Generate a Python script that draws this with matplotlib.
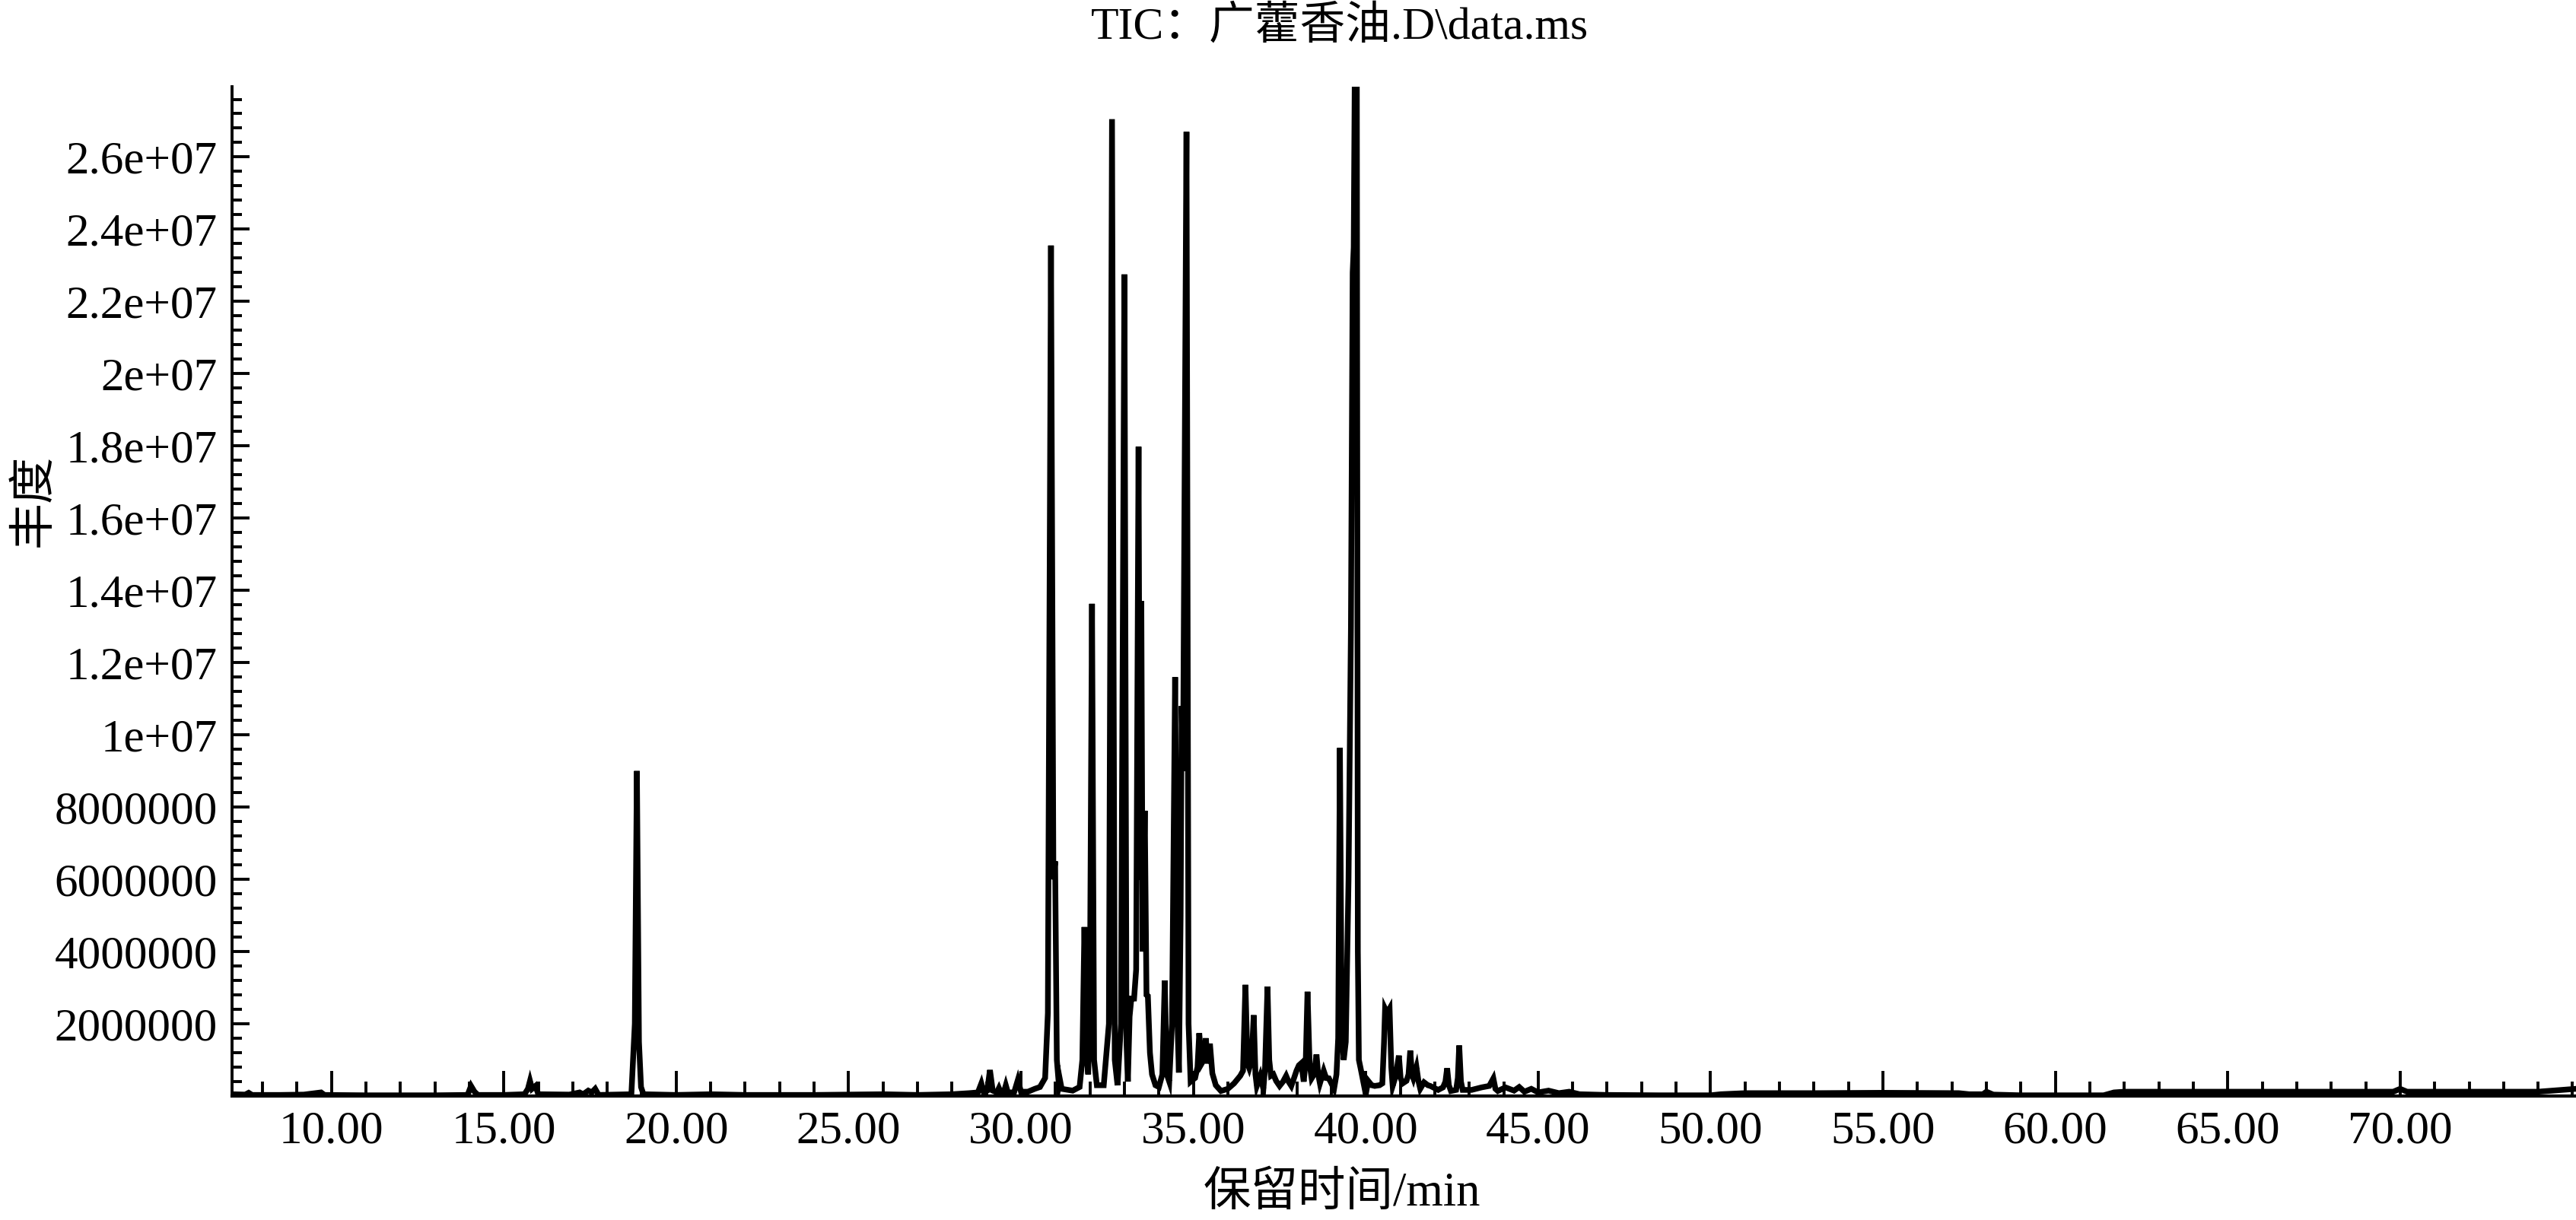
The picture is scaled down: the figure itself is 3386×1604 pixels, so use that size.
import numpy as np
import matplotlib
matplotlib.use("Agg")
import matplotlib.pyplot as plt
from matplotlib.ticker import FixedLocator, MultipleLocator, FuncFormatter

plt.rcParams['font.family'] = ['Liberation Serif', 'Noto Sans CJK SC', 'DejaVu Sans']

title = "TIC：广藿香油.D\\data.ms"
x_label = "保留时间/min"
y_label = "丰度"
x_ticks = [10, 15, 20, 25, 30, 35, 40, 45, 50, 55, 60, 65, 70]

# retention time (min) and abundance (x 1e6)
rt_early = [7.12, 7.5, 7.6, 7.7, 8.5, 9.2, 9.7, 9.8, 11.0, 13.0, 13.95, 14.05, 14.15, 14.25,
            15.0, 15.6, 15.7, 15.76, 15.82, 15.92, 16.0, 16.9, 17.2, 17.3, 17.45, 17.55, 17.65,
            17.75, 18.7, 18.8, 18.86, 18.92, 18.98, 19.05, 20.0, 21.0, 22.0, 24.0, 26.0, 27.0,
            28.0, 28.5, 28.75, 28.85, 28.92, 29.02, 29.1, 29.18, 29.3, 29.36, 29.42, 29.5,
            29.56, 29.62, 29.8, 29.91, 30.0, 30.2, 30.4, 30.55, 30.7]
ab_early = [0.05, 0.04, 0.09, 0.03, 0.03, 0.04, 0.10, 0.03, 0.02, 0.02, 0.03, 0.28, 0.12, 0.03,
            0.03, 0.05, 0.20, 0.42, 0.20, 0.28, 0.05, 0.04, 0.10, 0.05, 0.15, 0.10, 0.20,
            0.03, 0.05, 2.0, 9.0, 1.5, 0.25, 0.05, 0.03, 0.05, 0.03, 0.03, 0.05, 0.03,
            0.05, 0.08, 0.10, 0.35, 0.10, 0.15, 0.72, 0.15, 0.10, 0.22, 0.08, 0.10,
            0.30, 0.10, 0.10, 0.45, 0.12, 0.12, 0.20, 0.25, 0.50]

rt_main = [30.78, 30.87, 30.94, 30.99, 31.04, 31.1, 31.13, 31.18, 31.5, 31.7, 31.78, 31.84,
           31.9, 31.95, 32.0, 32.06, 32.12, 32.2, 32.4, 32.55, 32.64, 32.72, 32.8, 32.9,
           33.0, 33.06, 33.1, 33.15, 33.2, 33.28, 33.34, 33.41, 33.45, 33.49, 33.53, 33.59,
           33.64, 33.68, 33.74, 33.8, 33.9, 34.0, 34.1, 34.17, 34.23, 34.3, 34.38, 34.47,
           34.54, 34.58, 34.63, 34.66, 34.7, 34.8, 34.86, 34.92, 34.98, 35.05, 35.12, 35.17,
           35.24, 35.3, 35.36, 35.42, 35.48, 35.55, 35.65, 35.8, 36.0, 36.18, 36.36, 36.44,
           36.51, 36.57, 36.62, 36.69, 36.75, 36.8, 36.84, 36.94, 37.03, 37.08, 37.15, 37.2,
           37.25, 37.32, 37.4, 37.5, 37.6, 37.69, 37.76, 37.84, 37.92, 37.99, 38.06, 38.13,
           38.2, 38.26, 38.31, 38.37, 38.43, 38.5, 38.57, 38.62, 38.67, 38.78, 38.85, 38.93,
           39.08, 39.15, 39.2, 39.25, 39.3, 39.36, 39.42, 39.5, 39.57, 39.62, 39.65, 39.68,
           39.74, 39.77, 39.8, 39.85]
ab_main = [2.3, 23.55, 6.0, 6.5, 1.0, 0.3, 0.45, 0.2, 0.15, 0.25, 1.0, 4.68,
           1.2, 0.6, 3.0, 13.63, 1.0, 0.3, 0.3, 2.0, 27.05, 1.0, 0.3, 2.0,
           22.75, 1.5, 0.4, 2.2, 2.7, 2.7, 3.5, 17.98, 6.0, 13.7, 4.0, 7.9,
           2.8, 2.77, 1.2, 0.6, 0.3, 0.25, 0.6, 3.2, 0.6, 0.4, 2.0, 11.6,
           2.0, 0.65, 5.0, 10.8, 9.0, 26.7, 2.0, 0.4, 0.45, 0.5, 0.8, 1.74,
           0.9, 1.0, 1.6, 0.9, 1.45, 0.63, 0.3, 0.14, 0.2, 0.35, 0.56, 0.7,
           3.08, 0.9, 0.77, 1.0, 2.24, 0.6, 0.28, 0.56, 0.2, 0.8, 3.03, 1.0,
           0.56, 0.6, 0.42, 0.28, 0.4, 0.56, 0.4, 0.28, 0.5, 0.7, 0.85, 0.91,
           0.4, 1.0, 2.89, 0.9, 0.49, 0.6, 1.15, 0.6, 0.35, 0.7, 0.5, 0.49,
           0.2, 0.6, 1.6, 9.64, 2.0, 1.0, 1.5, 6.0, 13.0, 22.8, 23.5, 28.2,
           28.2, 4.0, 1.0, 0.77]

rt_late = [40.0, 40.07, 40.17, 40.26, 40.4, 40.48, 40.53, 40.56, 40.62, 40.69, 40.74, 40.78,
           40.87, 40.96, 41.01, 41.07, 41.18, 41.24, 41.29, 41.34, 41.38, 41.47, 41.53, 41.58,
           41.69, 41.8, 41.87, 42.1, 42.24, 42.31, 42.36, 42.41, 42.47, 42.62, 42.67, 42.71,
           42.76, 42.81, 43.07, 43.36, 43.58, 43.7, 43.76, 43.83, 44.05, 44.3, 44.45, 44.6,
           44.8, 45.0, 45.3, 45.6, 45.9, 46.2, 47.0, 48.5, 50.0, 50.3, 51.0, 53.0, 55.0,
           57.2, 57.5, 57.9, 58.0, 58.2, 59.0, 61.4, 61.7, 62.0, 64.0, 66.0, 68.0, 69.8,
           70.0, 70.2, 72.0, 74.0, 75.1]
ab_late = [0.05, 0.42, 0.3, 0.28, 0.3, 0.35, 1.5, 2.42, 2.3, 2.42, 0.8, 0.28,
           0.56, 1.12, 0.5, 0.35, 0.42, 0.6, 1.26, 0.6, 0.49, 0.8, 0.4, 0.2,
           0.38, 0.3, 0.28, 0.17, 0.24, 0.4, 0.77, 0.3, 0.14, 0.17, 0.5, 1.4,
           0.4, 0.17, 0.17, 0.24, 0.28, 0.49, 0.2, 0.14, 0.24, 0.15, 0.25, 0.12,
           0.2, 0.1, 0.15, 0.08, 0.12, 0.05, 0.03, 0.02, 0.02, 0.05, 0.08, 0.08, 0.09,
           0.08, 0.05, 0.05, 0.12, 0.04, 0.02, 0.02, 0.1, 0.12, 0.12, 0.12, 0.12, 0.12,
           0.2, 0.12, 0.12, 0.12, 0.2]

rt = np.array(rt_early + rt_main + rt_late)
abundance = np.array(ab_early + ab_main + ab_late) * 1e6

fig = plt.figure(figsize=(16.93, 8.02), dpi=200)
ax = fig.add_axes([0.0901, 0.1016, 0.9099, 0.8274])

ax.plot(rt, abundance, color='black', lw=2.7, solid_joinstyle='miter')

ax.set_xlim(7.12, 75.1)
ax.set_ylim(0, 2.795e7)

ax.spines['top'].set_visible(False)
ax.spines['right'].set_visible(False)
ax.spines['left'].set_linewidth(1.4)
ax.spines['bottom'].set_linewidth(1.5)

ax.xaxis.set_major_locator(FixedLocator(x_ticks))
ax.xaxis.set_minor_locator(MultipleLocator(1))
ax.yaxis.set_major_locator(MultipleLocator(2e6))
ax.yaxis.set_minor_locator(MultipleLocator(4e5))
ax.xaxis.set_major_formatter(FuncFormatter(lambda v, p: "%.2f" % v))
ax.yaxis.set_major_formatter(FuncFormatter(lambda v, p: "" if v == 0 else "{:.7g}".format(v)))

ax.tick_params(axis='x', which='major', direction='in', length=11.9, width=1.4,
               labelsize=22, pad=7)
ax.tick_params(axis='x', which='minor', direction='in', length=6.8, width=1.4)
ax.tick_params(axis='y', which='major', direction='in', length=8.3, width=1.4,
               labelsize=22, pad=7)
ax.tick_params(axis='y', which='minor', direction='in', length=4.5, width=1.4)

fig.text(0.520, 0.978, title, ha='center', va='center', fontsize=21.5)
fig.text(0.521, 0.021, x_label, ha='center', va='center', fontsize=22.5)
fig.text(0.0135, 0.590, y_label, ha='center', va='center', fontsize=22, rotation=90)

fig.savefig("out.png", dpi=200)
